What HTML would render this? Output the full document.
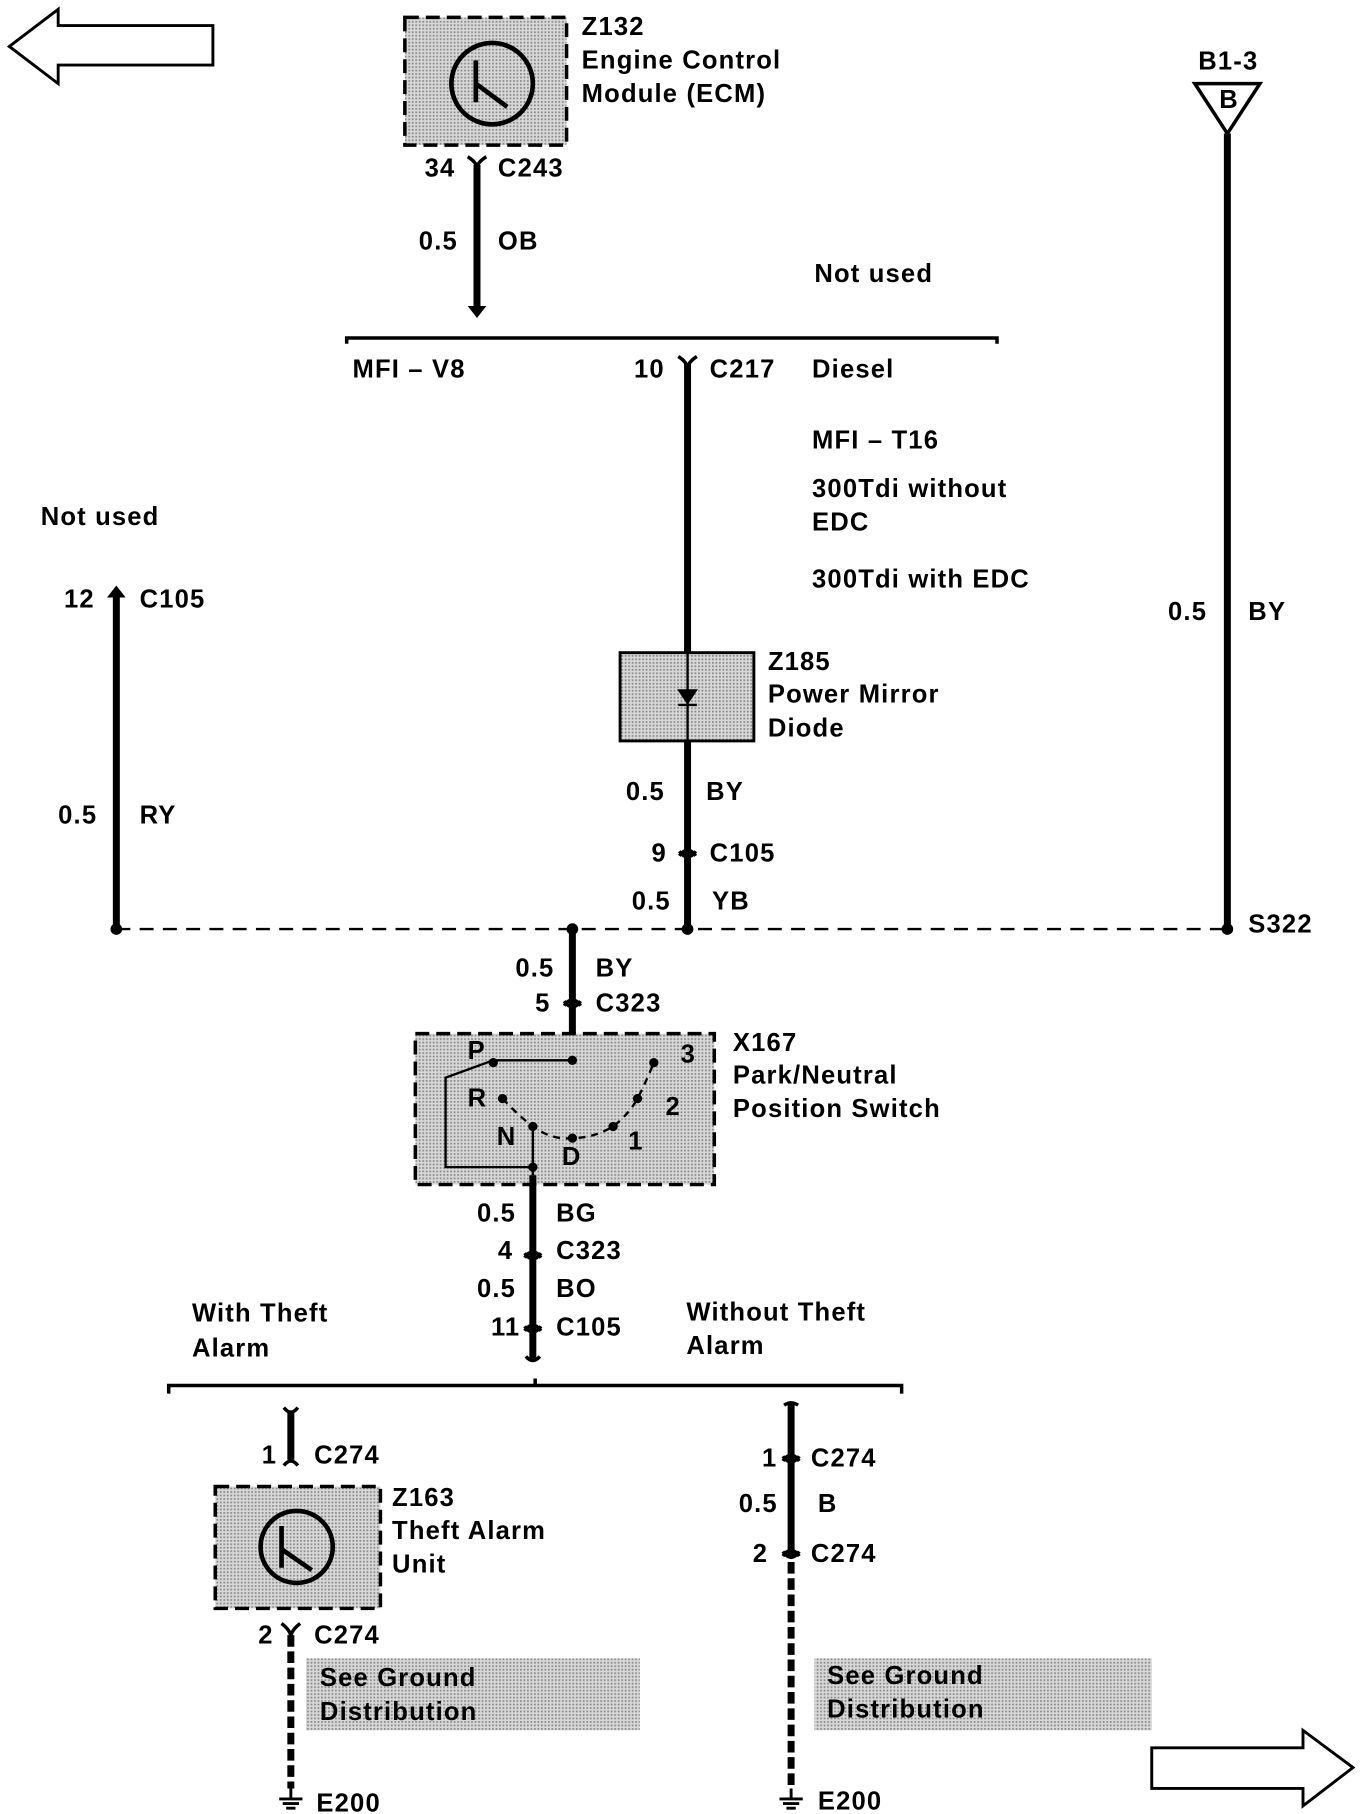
<!DOCTYPE html>
<html><head><meta charset="utf-8"><style>
html,body{margin:0;padding:0;background:#fff;}
svg{display:block;}
text{font-family:"Liberation Sans",sans-serif;font-weight:bold;font-size:22px;letter-spacing:1px;fill:#000;}
</style></head><body>
<svg width="1360" height="1814" viewBox="0 0 1169 1562" preserveAspectRatio="none" xmlns="http://www.w3.org/2000/svg">
<defs>
<pattern id="dots" width="3" height="3" patternUnits="userSpaceOnUse">
<rect width="3" height="3" fill="#d8d8d8"/><rect width="1.5" height="1.5" fill="#888"/>
</pattern>
</defs>
<g fill="none" stroke="#000">
<polygon points="8,40 50,8 50,22 183,22 183,56 50,56 50,72" stroke-width="2.5" fill="#fff"/>
<polygon points="1163,1522 1120,1490 1120,1505 990,1505 990,1540 1120,1540 1120,1555" stroke-width="2.5" fill="#fff"/>
<rect x="348" y="15" width="139" height="110" fill="url(#dots)" stroke-width="3" stroke-dasharray="12,6"/>
<circle cx="423" cy="72" r="35" stroke-width="4"/>
<path d="M409,52 V88 M409,72 L436,92" stroke-width="4"/>
<path d="M402,135 Q410,140 410,145 Q410,140 418,135" stroke-width="3"/>
<path d="M410,142 V268" stroke-width="6"/>
<polygon points="403,264 417,264 410,273" fill="#000"/>
<path d="M298,296 V291 H857 V296" stroke-width="3"/>
<path d="M583,307 Q591,312 591,318 Q591,312 599,307" stroke-width="3"/>
<path d="M591,313 V562 M591,638 V798" stroke-width="6"/>
<rect x="533" y="562" width="115" height="76" fill="url(#dots)" stroke-width="2.5"/>
<path d="M591,562 V638" stroke-width="2"/>
<polygon points="583,594 599,594 591,606" fill="#000"/>
<path d="M583,607 H599" stroke-width="2"/>
<path d="M584,737 Q591,727 598,737 M584,733 Q591,743 598,733" stroke-width="3"/>
<path d="M100,512 V800" stroke-width="6"/>
<polygon points="93,514 107,514 100,505" fill="#000"/>
<polygon points="1027,72 1083,72 1055,115" stroke-width="3" fill="#fff"/>
<path d="M1055,115 V798" stroke-width="6"/>
<path d="M100,800 H1055" stroke-width="2" stroke-dasharray="12,8"/>
<path d="M492,800 V913" stroke-width="6"/>
<path d="M485,866 Q492,856 499,866 M485,862 Q492,872 499,862" stroke-width="3"/>
<rect x="357" y="890" width="257" height="130" fill="url(#dots)" stroke-width="3" stroke-dasharray="12,6"/>
<path d="M492,913 H424 L383,928 V1005 H458" stroke-width="2"/>
<path d="M432,946 Q445,960 458,970 Q475,982 492,980 Q510,980 527,970 Q540,960 548,946 Q556,930 562,915" stroke-width="2" stroke-dasharray="6,5"/>
<path d="M458,970 V1012" stroke-width="2"/>
<path d="M458,1012 V1170" stroke-width="6"/>
<path d="M451,1083 Q458,1073 465,1083 M451,1079 Q458,1089 465,1079" stroke-width="3"/>
<path d="M451,1146 Q458,1136 465,1146 M451,1142 Q458,1152 465,1142" stroke-width="3"/>
<path d="M452,1168 Q458,1175 464,1168" stroke-width="3"/>
<path d="M145,1200 V1193 H775 V1200 M460,1193 V1187" stroke-width="3"/>
<path d="M244,1212 Q250,1220 256,1212 M244,1262 Q250,1254 256,1262" stroke-width="3"/>
<path d="M250,1216 V1257" stroke-width="6"/>
<rect x="185" y="1280" width="142" height="105" fill="url(#dots)" stroke-width="3" stroke-dasharray="12,6"/>
<circle cx="255" cy="1332" r="31" stroke-width="4"/>
<path d="M242,1314 V1350 M242,1334 L268,1352" stroke-width="4"/>
<path d="M242,1398 Q250,1404 250,1410 Q250,1404 258,1398" stroke-width="3"/>
<path d="M250,1408 V1540" stroke-width="6" stroke-dasharray="10,4"/>
<path d="M674,1210 Q680,1206 686,1210" stroke-width="3"/>
<path d="M680,1208 V1340" stroke-width="6"/>
<path d="M673,1258 Q680,1248 687,1258 M673,1254 Q680,1264 687,1254" stroke-width="3"/>
<path d="M673,1340 Q680,1330 687,1340 M673,1336 Q680,1346 687,1336" stroke-width="3"/>
<path d="M680,1345 V1540" stroke-width="6" stroke-dasharray="10,4"/>
<path d="M250,1540 V1548 M240,1549 H260 M243,1553 H257 M246,1557 H254" stroke-width="2.5"/>
<path d="M680,1540 V1548 M670,1549 H690 M673,1553 H687 M676,1557 H684" stroke-width="2.5"/>
</g>
<rect x="263" y="1428" width="287" height="62" fill="url(#dots)"/>
<rect x="700" y="1428" width="290" height="62" fill="url(#dots)"/>
<g fill="#000">
<circle cx="100" cy="800" r="5"/><circle cx="492" cy="800" r="5"/><circle cx="591" cy="800" r="5"/><circle cx="1055" cy="800" r="5"/>
<circle cx="424" cy="915" r="4"/><circle cx="492" cy="913" r="4"/><circle cx="432" cy="946" r="4"/><circle cx="458" cy="970" r="4"/><circle cx="492" cy="980" r="4"/><circle cx="527" cy="970" r="4"/><circle cx="548" cy="946" r="4"/><circle cx="562" cy="915" r="4"/><circle cx="458" cy="1005" r="4"/>
</g>
<text x="500" y="30">Z132</text><text x="500" y="59">Engine Control</text><text x="500" y="88">Module (ECM)</text>
<text x="365" y="152">34</text><text x="428" y="152">C243</text>
<text x="360" y="215">0.5</text><text x="428" y="215">OB</text>
<text x="700" y="243">Not used</text>
<text x="303" y="325">MFI – V8</text><text x="545" y="325">10</text><text x="610" y="325">C217</text><text x="698" y="325">Diesel</text>
<text x="698" y="386">MFI – T16</text><text x="698" y="428">300Tdi without</text><text x="698" y="457">EDC</text><text x="698" y="506">300Tdi with EDC</text>
<text x="35" y="452">Not used</text><text x="55" y="523">12</text><text x="120" y="523">C105</text>
<text x="50" y="709">0.5</text><text x="120" y="709">RY</text>
<text x="1030" y="60">B1-3</text><text x="1048" y="93" font-size="15">B</text>
<text x="1004" y="534">0.5</text><text x="1073" y="534">BY</text>
<text x="660" y="577">Z185</text><text x="660" y="605">Power Mirror</text><text x="660" y="634">Diode</text>
<text x="538" y="689">0.5</text><text x="607" y="689">BY</text>
<text x="560" y="742">9</text><text x="610" y="742">C105</text>
<text x="543" y="783">0.5</text><text x="612" y="783">YB</text>
<text x="1073" y="803">S322</text>
<text x="443" y="841">0.5</text><text x="512" y="841">BY</text>
<text x="460" y="871">5</text><text x="512" y="871">C323</text>
<text x="630" y="905">X167</text><text x="630" y="933">Park/Neutral</text><text x="630" y="962">Position Switch</text>
<text x="402" y="912">P</text><text x="402" y="953">R</text><text x="427" y="986">N</text><text x="483" y="1003">D</text><text x="540" y="990">1</text><text x="572" y="960">2</text><text x="585" y="915">3</text>
<text x="410" y="1052">0.5</text><text x="478" y="1052">BG</text>
<text x="428" y="1084">4</text><text x="478" y="1084">C323</text>
<text x="410" y="1117">0.5</text><text x="478" y="1117">BO</text>
<text x="422" y="1150">11</text><text x="478" y="1150">C105</text>
<text x="165" y="1138">With Theft</text><text x="165" y="1168">Alarm</text>
<text x="590" y="1137">Without Theft</text><text x="590" y="1166">Alarm</text>
<text x="225" y="1260">1</text><text x="270" y="1260">C274</text>
<text x="337" y="1297">Z163</text><text x="337" y="1325">Theft Alarm</text><text x="337" y="1354">Unit</text>
<text x="222" y="1415">2</text><text x="270" y="1415">C274</text>
<text x="275" y="1452">See Ground</text><text x="275" y="1481">Distribution</text>
<text x="655" y="1263">1</text><text x="697" y="1263">C274</text>
<text x="635" y="1302">0.5</text><text x="703" y="1302">B</text>
<text x="647" y="1345">2</text><text x="697" y="1345">C274</text>
<text x="711" y="1450">See Ground</text><text x="711" y="1479">Distribution</text>
<text x="272" y="1560">E200</text><text x="703" y="1558">E200</text>
</svg>
</body></html>
